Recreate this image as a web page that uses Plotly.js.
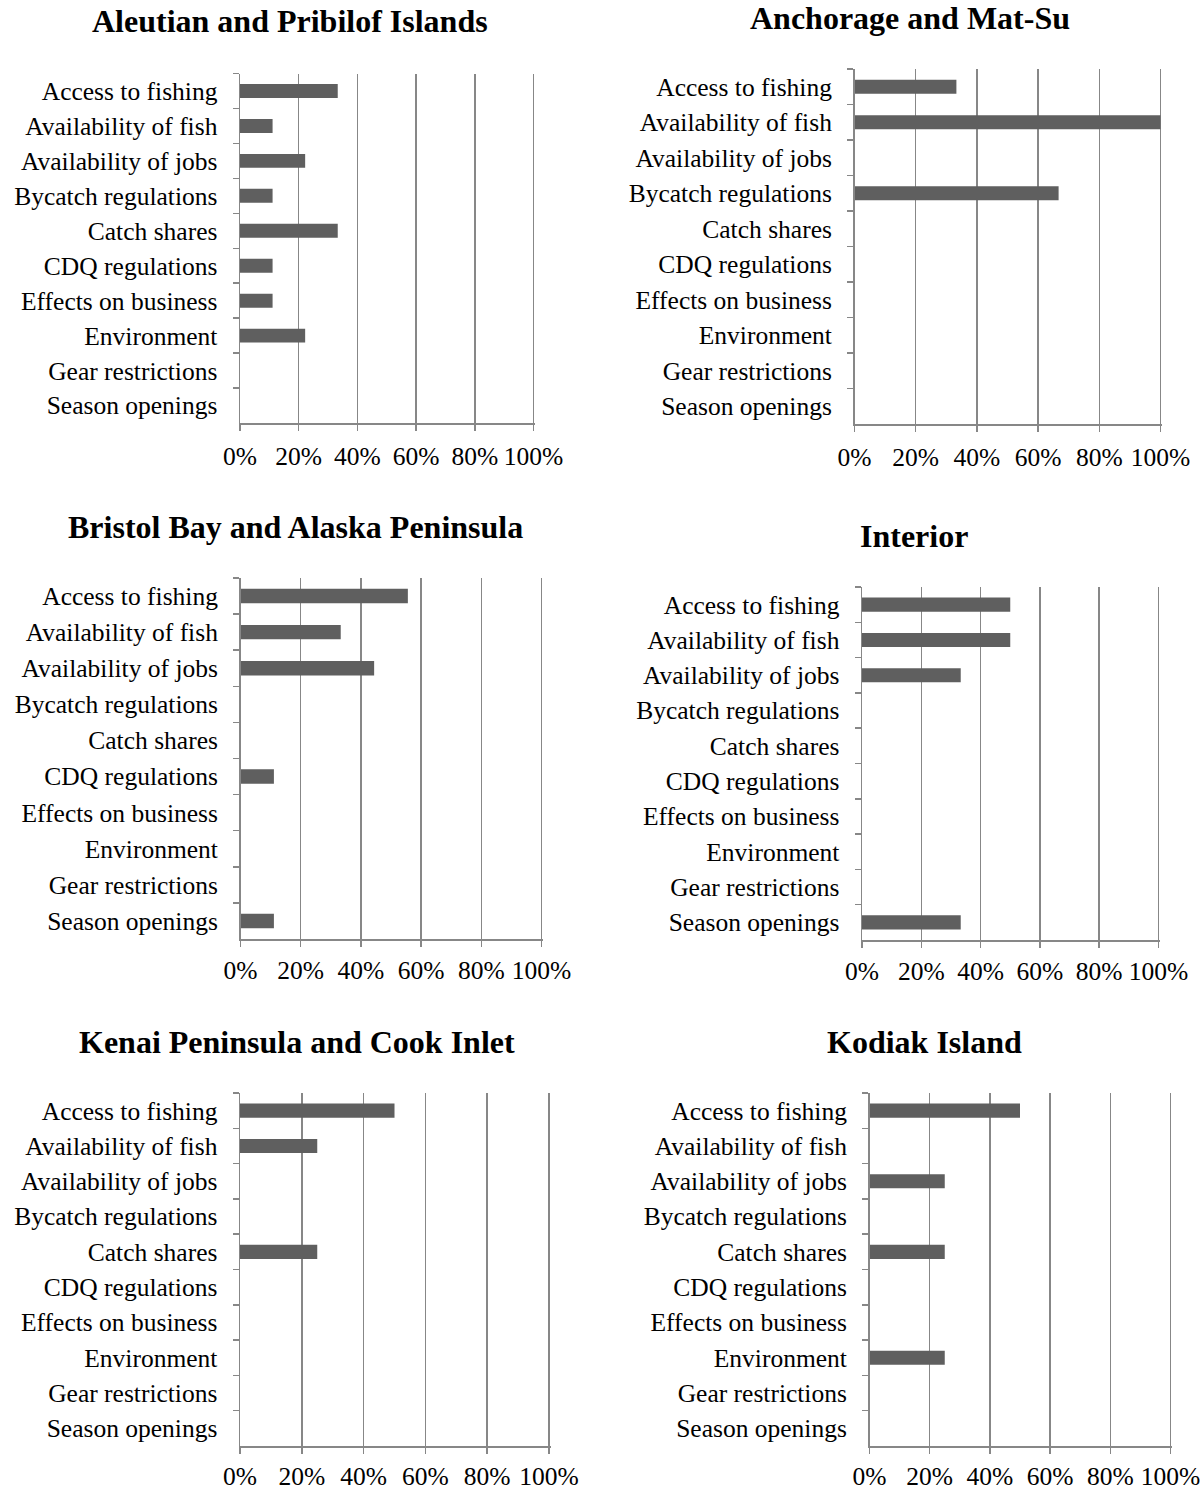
<!DOCTYPE html>
<html>
<head>
<meta charset="utf-8">
<script src="https://cdn.plot.ly/plotly-3.0.1.min.js"></script>
<style>
html,body{margin:0;padding:0;background:#fff;}
#chart{width:1204px;height:1490px;}
</style>
</head>
<body>
<div id="chart"></div>
<script>
const categories = ["Access to fishing","Availability of fish","Availability of jobs","Bycatch regulations","Catch shares","CDQ regulations","Effects on business","Environment","Gear restrictions","Season openings"];
const regions = ["Aleutian and Pribilof Islands","Anchorage and Mat-Su","Bristol Bay and Alaska Peninsula","Interior","Kenai Peninsula and Cook Inlet","Kodiak Island"];
const aleutian  = [0.333,0.111,0.222,0.111,0.333,0.111,0.111,0.222,0,0];
const anchorage = [0.333,1.0,0,0.667,0,0,0,0,0,0];
const bristol   = [0.556,0.333,0.444,0,0,0.111,0,0,0,0.111];
const interior  = [0.5,0.5,0.333,0,0,0,0,0,0,0.333];
const kenai     = [0.5,0.25,0,0,0.25,0,0,0,0,0];
const kodiak    = [0.5,0,0.25,0,0.25,0,0,0.25,0,0];
const xTickVals = [0,0.2,0.4,0.6,0.8,1.0];
const xTickText = ["0%","20%","40%","60%","80%","100%"];

const seriesList = [aleutian, anchorage, bristol, interior, kenai, kodiak];

const W = 1204, H = 1490;
const XMAX = 1.005;
// pixel boxes: [x at 0%, x at 100%, yTop, yBottom]
const boxes = [
  [240, 533.5, 73.5, 423],
  [854.5, 1160.5, 69, 424],
  [240.5, 541.5, 578, 939],
  [862, 1158.5, 587, 940],
  [240, 549, 1093, 1446],
  [869.5, 1170.5, 1093, 1446]
];
const xStandoff = [4, 4, 2, 2, 1, 1];
const titlePos = [[290,21],[910,18],[295,527],[913.5,536],[297,1042],[924,1042]];

const gray = '#878787';
const serif = 'Liberation Serif, Times New Roman, serif';
const font = {family: serif, size:25.5, color:'#000'};

const data = [];
const layout = {
  width: W, height: H,
  margin: {l:0,r:0,t:0,b:0},
  paper_bgcolor:'#fff', plot_bgcolor:'#fff',
  showlegend:false,
  font: {family: serif},
  annotations: []
};

seriesList.forEach((vals, i) => {
  const n = i === 0 ? '' : String(i+1);
  data.push({
    type:'bar', orientation:'h',
    x: vals, y: categories,
    xaxis: 'x'+n, yaxis: 'y'+n,
    marker:{color:'#5f5f5f', line:{width:0}},
    width: 0.4,
    hoverinfo:'x+y'
  });
  const b = boxes[i];
  const xEnd = b[0] + (b[1]-b[0])*XMAX;
  layout['xaxis'+n] = {
    domain:[b[0]/W, xEnd/W],
    anchor:'y'+n,
    range:[0,XMAX],
    tickvals: xTickVals, ticktext: xTickText,
    ticks:'outside', ticklen:6, tickcolor:gray, tickwidth:1.5,
    showgrid:true, gridcolor:gray, gridwidth:1.5,
    showline:true, linecolor:gray, linewidth:1.5,
    zeroline:false,
    tickfont: font,
    ticklabelstandoff: xStandoff[i],
    fixedrange:true
  };
  layout['yaxis'+n] = {
    domain:[1 - b[3]/H, 1 - b[2]/H],
    anchor:'x'+n,
    type:'category',
    categoryorder:'array', categoryarray: categories,
    autorange:'reversed',
    ticks:'outside', tickson:'boundaries', ticklen:6, tickcolor:gray, tickwidth:1.5,
    showgrid:false,
    showline:true, linecolor:gray, linewidth:1.5,
    zeroline:false,
    tickfont: font,
    ticklabelstandoff: 16,
    fixedrange:true
  };
  layout.annotations.push({
    text: regions[i],
    xref:'paper', yref:'paper',
    x: titlePos[i][0]/W, y: 1 - titlePos[i][1]/H,
    xanchor:'center', yanchor:'middle',
    showarrow:false,
    font:{family: serif, size:32, color:'#000', weight:'bold'}
  });
});

Plotly.newPlot('chart', data, layout, {displayModeBar:false, staticPlot:true});
</script>
</body>
</html>
